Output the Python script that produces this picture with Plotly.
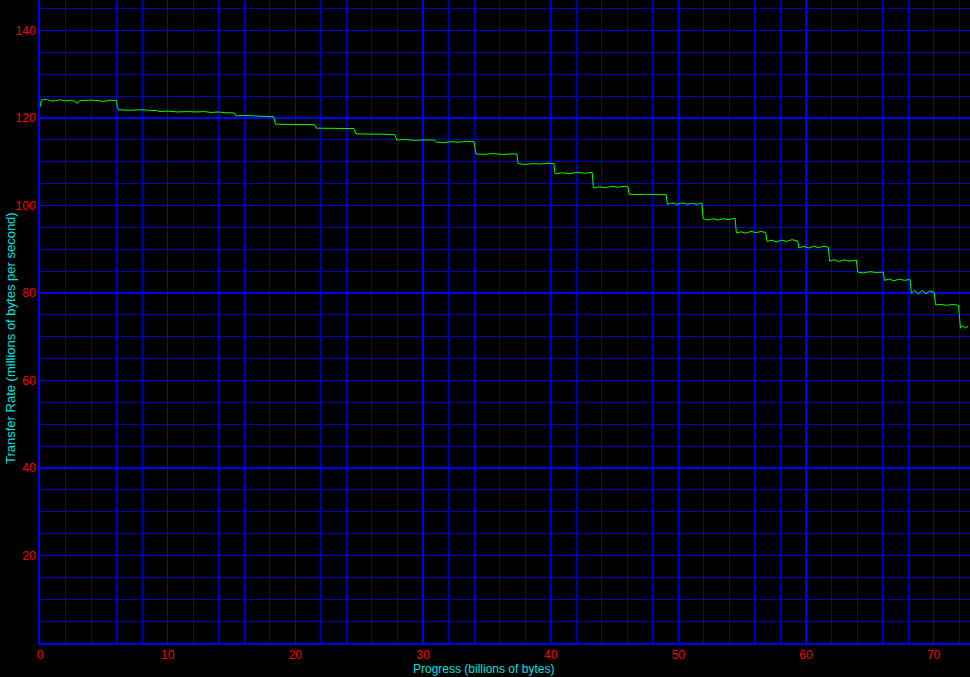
import plotly.graph_objects as go

# Progress (billions of bytes)
progress = [
    0, 0.1, 0.5, 0.9, 1.2, 1.6, 2.0, 2.4, 2.8, 2.9, 3.1, 3.5, 4.0, 4.5, 5.0, 5.4, 5.8, 6.0,
    6.05, 6.15, 7.0, 7.8, 8.5, 9.2, 9.3, 10.0, 10.8, 11.5, 12.3, 12.8, 13.4, 14.0, 14.6, 15.2,
    15.35, 16.0, 16.8, 17.5, 18.3,
    18.45, 19.5, 20.5, 21.5,
    21.65, 22.5, 23.5, 24.6,
    24.75, 25.5, 26.3, 27.0, 27.8,
    27.95, 28.6, 29.3, 30.0, 30.9,
    31.05, 31.6, 32.2, 32.8, 33.4, 34.0,
    34.15, 34.8, 35.5, 36.2, 36.9, 37.35,
    37.45, 38.0, 38.6, 39.2, 39.8, 40.25,
    40.35, 40.9, 41.5, 42.1, 42.7, 43.25,
    43.35, 43.8, 44.3, 44.8, 45.3, 45.8, 46.05,
    46.15, 46.8, 47.5, 48.2, 49.05,
    49.15, 49.5, 49.9, 50.3, 50.7, 51.1, 51.5, 51.85,
    51.95, 52.3, 52.7, 53.1, 53.5, 53.9, 54.45,
    54.55, 54.9, 55.3, 55.7, 56.1, 56.5, 56.85,
    56.95, 57.3, 57.7, 58.1, 58.5, 58.9, 59.35,
    59.45, 59.8, 60.2, 60.6, 61.0, 61.4, 61.75,
    61.85, 62.2, 62.6, 63.0, 63.4, 63.95,
    64.05, 64.5, 65.0, 65.5, 66.05,
    66.15, 66.5, 66.9, 67.3, 67.7, 68.15,
    68.25, 68.5, 68.8, 69.1, 69.4, 69.7, 70.05,
    70.15, 70.6, 71.0, 71.5, 71.95,
    72.1, 72.3, 72.5, 72.7,
]

# Transfer rate (millions of bytes per second)
rate = [
    122.5, 124.1, 124.3, 123.9, 124.0, 124.2, 123.9, 124.1, 123.8, 123.3, 124.0, 124.1, 124.1, 124.0, 123.8, 124.1, 124.0, 124.0,
    122.6, 121.9, 121.8, 121.9, 121.8, 121.7, 121.5, 121.6, 121.4, 121.5, 121.4, 121.5, 121.3, 121.4, 121.2, 121.2,
    120.5, 120.6, 120.5, 120.4, 120.3,
    118.6, 118.6, 118.5, 118.5,
    117.7, 117.7, 117.6, 117.6,
    116.4, 116.4, 116.3, 116.3, 116.2,
    115.0, 115.1, 114.9, 115.0, 115.0,
    114.5, 114.4, 114.6, 114.5, 114.7, 114.6,
    111.8, 111.7, 111.9, 111.7, 111.8, 111.8,
    109.6, 109.4, 109.6, 109.5, 109.7, 109.6,
    107.3, 107.5, 107.3, 107.6, 107.4, 107.6,
    104.0, 104.3, 104.1, 104.4, 104.2, 104.4, 104.3,
    102.6, 102.5, 102.6, 102.5, 102.5,
    100.3, 100.6, 100.3, 100.6, 100.3, 100.5, 100.3, 100.6,
    97.0, 96.7, 97.0, 96.7, 97.0, 96.8, 97.1,
    93.7, 94.0, 93.7, 94.1, 93.8, 94.1, 93.8,
    91.8, 92.1, 91.7, 92.1, 91.8, 92.2, 91.9,
    90.3, 90.7, 90.3, 90.7, 90.4, 90.7, 90.5,
    87.3, 87.6, 87.2, 87.6, 87.3, 87.5,
    84.8, 84.6, 84.9, 84.7, 84.8,
    82.9, 83.2, 82.8, 83.2, 82.9, 83.1,
    80.0, 80.6, 79.8, 80.6, 79.8, 80.5, 80.1,
    77.3, 77.4, 77.2, 77.4, 77.2,
    72.0, 72.5, 72.0, 72.4,
]

x_title = "Progress (billions of bytes)"
y_title = "Transfer Rate (millions of bytes per second)"

W, H = 970, 677
L, R, T, B = 40, 0, 0, 34
pw, ph = W - L - R, H - T - B

fig = go.Figure()
fig.add_trace(go.Scatter(
    x=progress, y=rate, mode="lines",
    line=dict(color="#00ff00", width=1),
    hoverinfo="skip", showlegend=False,
))

tick_font = dict(family="Liberation Sans, Arial, sans-serif", size=12, color="#ff0000")
title_font = dict(family="Liberation Sans, Arial, sans-serif", size=12, color="#00e0e0")

fig.update_layout(
    width=W, height=H,
    margin=dict(l=L, r=R, t=T, b=B, pad=0),
    paper_bgcolor="#000000", plot_bgcolor="#000000",
    xaxis=dict(
        range=[0, 72.85], tickmode="linear", tick0=0, dtick=10,
        showgrid=True, gridcolor="#0000ff", gridwidth=1.5,
        minor=dict(tickmode="linear", tick0=0, dtick=2, showgrid=True,
                   gridcolor="#0000c8", gridwidth=1, ticks=""),
        showline=True, linecolor="#0000ff", linewidth=2,
        zeroline=False, ticks="", tickfont=tick_font, automargin=False,
        fixedrange=True,
    ),
    yaxis=dict(
        range=[0, 147], tickmode="linear", tick0=0, dtick=20,
        labelalias={"0": ""},
        showgrid=True, gridcolor="#0000ff", gridwidth=1.5,
        minor=dict(tickmode="linear", tick0=0, dtick=5, showgrid=True,
                   gridcolor="#0000c8", gridwidth=1, ticks=""),
        showline=True, linecolor="#0000ff", linewidth=2,
        zeroline=False, ticks="", tickfont=tick_font, automargin=False,
        fixedrange=True,
    ),
    annotations=[
        dict(text=x_title, xref="paper", yref="paper",
             x=(483 - L) / pw, y=-(669 - ph) / ph,
             xanchor="center", yanchor="middle", showarrow=False, font=title_font),
        dict(text=y_title, xref="paper", yref="paper",
             x=(10 - L) / pw, y=(ph - 338) / ph, textangle=-90,
             xanchor="center", yanchor="middle", showarrow=False,
             font=dict(family="Liberation Sans, Arial, sans-serif", size=13, color="#00e0e0")),
    ],
)

fig.write_html(
    "out.html",
    config={"displayModeBar": False, "staticPlot": True},
    post_script="document.body.style.margin='0';document.body.style.background='#000';",
)
